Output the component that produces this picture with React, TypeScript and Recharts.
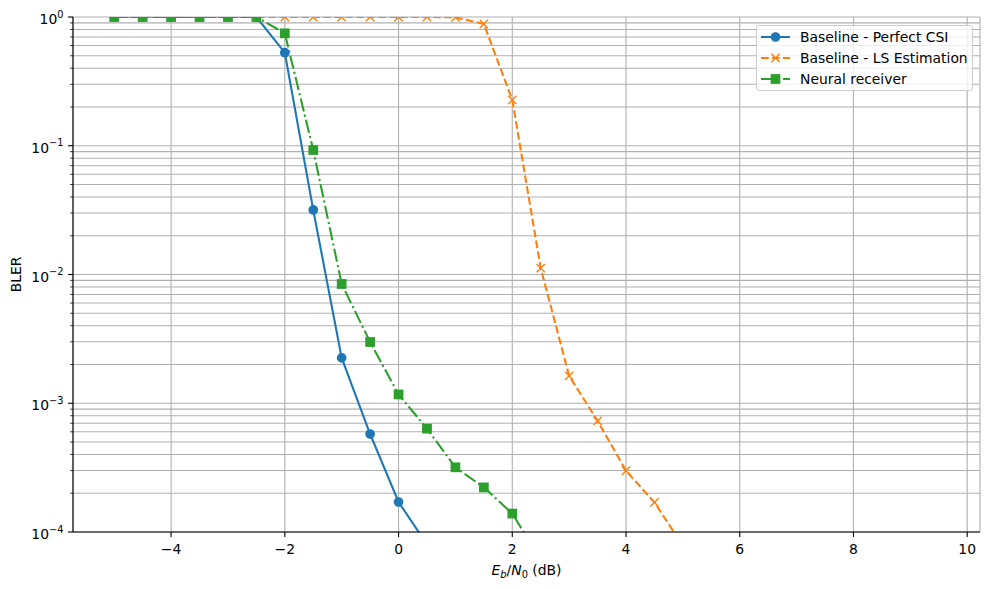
import React from "react";
import { LineChart, Line, XAxis, YAxis, CartesianGrid, Legend, Label } from "recharts";

// Eb/N0 sweep (dB)
const ebNo = [
  -5, -4.5, -4, -3.5, -3, -2.5, -2, -1.5, -1, -0.5, 0, 0.5, 1, 1.5, 2, 2.5, 3, 3.5, 4, 4.5,
  5, 5.5, 6, 6.5, 7, 7.5, 8, 8.5, 9, 9.5,
];

const perfectCsi = [
  1, 1, 1, 1, 1, 1, 0.528, 0.0317, 0.00225, 5.77e-4, 1.71e-4, 8.0e-5,
];
const lsEstimation = [
  1, 1, 1, 1, 1, 1, 1, 1, 1, 1, 1, 1, 0.995, 0.882, 0.227, 0.0112, 0.00163, 7.3e-4, 2.99e-4,
  1.7e-4, 7.8e-5,
];
const neuralReceiver = [
  1, 1, 1, 1, 1, 1, 0.747, 0.0927, 0.00844, 0.00299, 0.00117, 6.35e-4, 3.18e-4, 2.22e-4,
  1.39e-4, 6.1e-5,
];

const xTicks = [-4, -2, 0, 2, 4, 6, 8, 10];
const yDecades = [1e-4, 1e-3, 1e-2, 1e-1];
const yTop = 1;

const FONT = "'DejaVu Sans', sans-serif";
const GRID = "#b0b0b0";

const W = 990;
const H = 589;
const MARGIN = { top: 17, right: 10, bottom: 0, left: 0 };
const Y_AXIS_W = 73;
const X_AXIS_H = 57;
// plot rectangle follows from the margins/axis sizes above
const PLOT = {
  x: MARGIN.left + Y_AXIS_W,
  y: MARGIN.top,
  w: W - MARGIN.left - Y_AXIS_W - MARGIN.right,
  h: H - MARGIN.top - X_AXIS_H - MARGIN.bottom,
};

const yTicks: number[] = [];
yDecades.forEach((d) => {
  for (let m = 1; m <= 9; m++) yTicks.push(m * d);
});
yTicks.push(yTop);

const data = ebNo.map((x, i) => ({
  x,
  perfect: perfectCsi[i] ?? null,
  ls: lsEstimation[i] ?? null,
  neural: neuralReceiver[i] ?? null,
}));

const series = [
  { key: "perfect", name: "Baseline - Perfect CSI", color: "#1f77b4", dash: undefined, marker: "circle" },
  { key: "ls", name: "Baseline - LS Estimation", color: "#ff7f0e", dash: "7.7 3.3", marker: "x" },
  { key: "neural", name: "Neural receiver", color: "#2ca02c", dash: "13.3 3.3 2.1 3.3", marker: "square" },
];

const Marker = ({ shape, cx, cy, color }: any) => {
  const h = 4.17;
  if (shape === "circle")
    return <circle cx={cx} cy={cy} r={h} fill={color} stroke={color} strokeWidth={1.39} />;
  if (shape === "square")
    return (
      <rect x={cx - h} y={cy - h} width={2 * h} height={2 * h} fill={color} stroke={color} strokeWidth={1.39} />
    );
  return (
    <g stroke={color} strokeWidth={1.39}>
      <line x1={cx - h} y1={cy - h} x2={cx + h} y2={cy + h} />
      <line x1={cx - h} y1={cy + h} x2={cx + h} y2={cy - h} />
    </g>
  );
};

// markers are clipped to the axes box like matplotlib does (nested svg clips its content)
const makeDot = (shape: string, color: string) => (props: any) => {
  const { cx, cy, key, value } = props;
  if (cx == null || cy == null || value == null) return <g key={key} />;
  return (
    <svg key={key} x={PLOT.x} y={PLOT.y} width={PLOT.w} height={PLOT.h} overflow="hidden">
      <Marker shape={shape} cx={cx - PLOT.x} cy={cy - PLOT.y} color={color} />
    </svg>
  );
};

const isMajor = (v: number) => Math.abs(Math.log10(v) - Math.round(Math.log10(v))) < 1e-9;

const YTick = ({ x, y, payload }: any) => {
  const v = payload.value;
  if (!isMajor(v)) {
    return <line x1={x - 2.8} x2={x} y1={y} y2={y} stroke="#000" strokeWidth={0.8} />;
  }
  const exp = Math.round(Math.log10(v));
  const expText = exp < 0 ? `\u2212${-exp}` : `${exp}`;
  return (
    <g>
      <line x1={x - 4.9} x2={x} y1={y} y2={y} stroke="#000" strokeWidth={1.1} />
      <text x={x - 9.5} y={y + 7} textAnchor="end" fontFamily={FONT} fontSize={13.9} fill="#000">
        <tspan>10</tspan>
        <tspan dy={-6.5} fontSize={9.8}>{expText}</tspan>
      </text>
    </g>
  );
};

const XTick = ({ x, y, payload }: any) => {
  const v = payload.value;
  const label = v < 0 ? `\u2212${-v}` : `${v}`;
  return (
    <g>
      <line x1={x} x2={x} y1={y} y2={y + 4.9} stroke="#000" strokeWidth={1.1} />
      <text x={x} y={y + 22} textAnchor="middle" fontFamily={FONT} fontSize={13.9} fill="#000">
        {label}
      </text>
    </g>
  );
};

const XLabel = ({ viewBox }: any) => {
  const cx = viewBox.x + viewBox.width / 2;
  return (
    <text x={cx} y={575} textAnchor="middle" fontFamily={FONT} fontSize={13.9} fill="#000">
      <tspan fontStyle="italic">E</tspan>
      <tspan fontStyle="italic" fontSize={9.8} dy={3}>b</tspan>
      <tspan dy={-3}>/</tspan>
      <tspan fontStyle="italic">N</tspan>
      <tspan fontSize={9.8} dy={3}>0</tspan>
      <tspan dy={-3}> (dB)</tspan>
    </text>
  );
};

const YLabel = ({ viewBox }: any) => {
  const cy = viewBox.y + viewBox.height / 2;
  return (
    <text
      x={21}
      y={cy}
      transform={`rotate(-90, 21, ${cy})`}
      textAnchor="middle"
      fontFamily={FONT}
      fontSize={13.9}
      fill="#000"
    >
      BLER
    </text>
  );
};

const LegendBox = () => (
  <div
    style={{
      position: "relative",
      width: 217,
      height: 66,
      boxSizing: "border-box",
      border: "1px solid #cccccc",
      borderRadius: 3,
      background: "rgba(255,255,255,0.8)",
      fontFamily: FONT,
      fontSize: 13.9,
      color: "#000",
    }}
  >
    {series.map((s, i) => (
      <div
        key={s.key}
        style={{ position: "absolute", left: 0, top: 1 + i * 20.8, height: 20, display: "flex", alignItems: "center" }}
      >
        <svg width={40} height={20} style={{ display: "block" }}>
          <line x1={4} x2={33} y1={10} y2={10} stroke={s.color} strokeWidth={2.08} strokeDasharray={s.dash} />
          <Marker shape={s.marker} cx={18.5} cy={10} color={s.color} />
        </svg>
        <span style={{ whiteSpace: "nowrap", marginLeft: 3 }}>{s.name}</span>
      </div>
    ))}
  </div>
);

export default function App() {
  return (
    <div style={{ position: "absolute", left: 0, top: 0, width: W, height: H, background: "#fff" }}>
      <LineChart width={W} height={H} data={data} margin={MARGIN} style={{ fontFamily: FONT }}>
        <CartesianGrid stroke={GRID} strokeWidth={1.1} />
        <XAxis
          dataKey="x"
          type="number"
          domain={[-5.725, 10.225]}
          ticks={xTicks}
          allowDataOverflow
          height={X_AXIS_H}
          tickSize={0}
          tickMargin={0}
          tickLine={false}
          axisLine={{ stroke: "#000", strokeWidth: 1.1 }}
          tick={<XTick />}
          interval={0}
        >
          <Label content={<XLabel />} />
        </XAxis>
        <XAxis
          xAxisId="top"
          dataKey="x"
          type="number"
          orientation="top"
          domain={[-5.725, 10.225]}
          allowDataOverflow
          height={0}
          tick={false}
          tickLine={false}
          axisLine={{ stroke: "#000", strokeWidth: 1.1 }}
        />
        <YAxis
          scale="log"
          type="number"
          domain={[1e-4, 1]}
          ticks={yTicks}
          allowDataOverflow
          width={Y_AXIS_W}
          tickSize={0}
          tickMargin={0}
          tickLine={false}
          axisLine={{ stroke: "#000", strokeWidth: 1.1 }}
          tick={<YTick />}
          interval={0}
        >
          <Label content={<YLabel />} />
        </YAxis>
        <YAxis
          yAxisId="right"
          orientation="right"
          scale="log"
          type="number"
          domain={[1e-4, 1]}
          allowDataOverflow
          width={0}
          tick={false}
          tickLine={false}
          axisLine={{ stroke: "#000", strokeWidth: 1.1 }}
        />
        {series.map((s) => (
          <Line
            key={s.key}
            dataKey={s.key}
            name={s.name}
            stroke={s.color}
            strokeWidth={2.08}
            strokeDasharray={s.dash}
            dot={makeDot(s.marker, s.color)}
            activeDot={false}
            isAnimationActive={false}
            type="linear"
            legendType="none"
          />
        ))}
        <Legend
          layout="horizontal"
          align="center"
          verticalAlign="middle"
          content={<LegendBox />}
          wrapperStyle={{ left: 756, top: 25, width: 217, height: 66 }}
        />
      </LineChart>
    </div>
  );
}
